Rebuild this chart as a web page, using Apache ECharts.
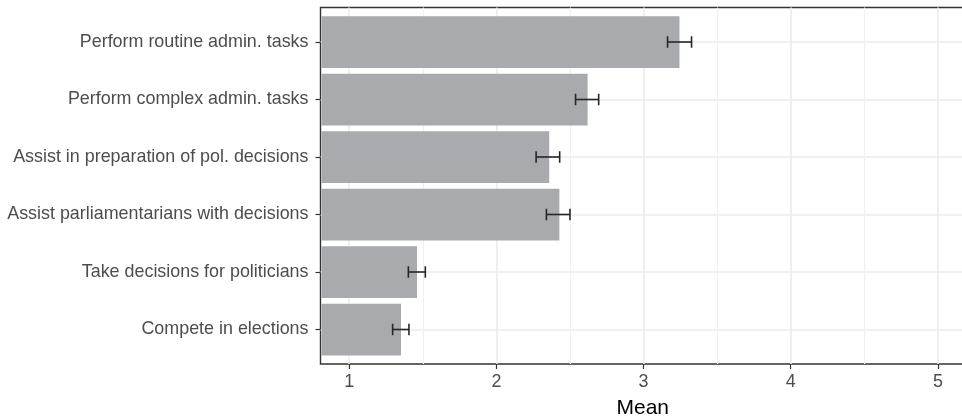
<!DOCTYPE html>
<html>
<head>
<meta charset="utf-8">
<script src="https://cdn.jsdelivr.net/npm/echarts@6/dist/echarts.min.js"></script>
<style>
html,body{margin:0;padding:0;background:#fff;}
#chart{width:962px;height:416px;}
</style>
</head>
<body>
<div id="chart"></div>
<script>
const categories = [
  "Perform routine admin. tasks",
  "Perform complex admin. tasks",
  "Assist in preparation of pol. decisions",
  "Assist parliamentarians with decisions",
  "Take decisions for politicians",
  "Compete in elections"
];
const means = [3.244, 2.62, 2.359, 2.428, 1.461, 1.352];
const lower = [3.163, 2.538, 2.27, 2.34, 1.402, 1.295];
const upper = [3.326, 2.695, 2.43, 2.50, 1.517, 1.406];
const xTicks = [1, 2, 3, 4, 5];
const xMinorTicks = [1.5, 2.5, 3.5, 4.5];

const X_MIN = 0.805, X_MAX = 5.184;
const catIdx = categories.map((c, i) => i);

const barData = catIdx.map(i => [means[i], i]);
const errData = catIdx.map(i => [lower[i], upper[i], i]);

const chart = echarts.init(document.getElementById('chart'), null, {renderer: 'canvas'});
const font = 'Liberation Sans, Arial, Helvetica, sans-serif';

chart.setOption({
  animation: false,
  backgroundColor: '#fff',
  grid: {
    left: 320.5, top: 7.5, right: -3, bottom: 52,
    outerBoundsMode: 'none', containLabel: false,
    show: true, borderColor: '#333333', borderWidth: 1.4, backgroundColor: 'transparent'
  },
  xAxis: [{
    type: 'value', min: X_MIN, max: X_MAX,
    name: 'Mean', nameLocation: 'middle', nameGap: 34,
    nameTextStyle: {fontFamily: font, fontSize: 21, color: '#000'},
    axisLine: {show: false, onZero: false},
    axisTick: {show: true, length: 5, customValues: xTicks, lineStyle: {color: '#333', width: 1.2}},
    axisLabel: {customValues: xTicks, fontFamily: font, fontSize: 17.9, color: '#4d4d4d', margin: 9},
    splitLine: {show: true, lineStyle: {color: '#ebebeb', width: 1.6}}
  }, {
    type: 'value', min: X_MIN, max: X_MAX, position: 'top',
    axisLine: {show: false, onZero: false},
    axisTick: {show: false, customValues: xMinorTicks},
    axisLabel: {show: false, customValues: xMinorTicks},
    splitLine: {show: true, lineStyle: {color: '#f0f0f0', width: 1.2}}
  }],
  yAxis: {
    type: 'value', inverse: true, min: -0.6, max: 5.6,
    axisLine: {show: false, onZero: false},
    axisTick: {show: true, length: 5, customValues: catIdx, lineStyle: {color: '#333', width: 1.2}},
    axisLabel: {
      customValues: catIdx, fontFamily: font, fontSize: 17.9, color: '#4d4d4d', margin: 12,
      formatter: v => categories[Math.round(v)]
    },
    splitLine: {show: true, lineStyle: {color: '#ebebeb', width: 1.6}}
  },
  series: [{
    type: 'custom',
    data: barData,
    encode: {x: 0, y: 1},
    renderItem: function (params, api) {
      const v = api.value(0), i = api.value(1);
      const p0 = api.coord([X_MIN, i]);
      const p1 = api.coord([v, i]);
      const h = api.size([0, 0.9])[1];
      return {
        type: 'rect',
        shape: {x: p0[0] + 1, y: p1[1] - h / 2, width: p1[0] - p0[0] - 1, height: h},
        style: {fill: '#a9aaad'}
      };
    }
  }, {
    type: 'custom',
    data: errData,
    encode: {x: [0, 1], y: 2},
    renderItem: function (params, api) {
      const lo = api.value(0), hi = api.value(1), i = api.value(2);
      const a = api.coord([lo, i]);
      const b = api.coord([hi, i]);
      const c = api.size([0, 0.2])[1] / 2;
      const st = {stroke: '#262626', lineWidth: 1.6};
      return {
        type: 'group',
        children: [
          {type: 'line', shape: {x1: a[0], y1: a[1], x2: b[0], y2: b[1]}, style: st},
          {type: 'line', shape: {x1: a[0], y1: a[1] - c, x2: a[0], y2: a[1] + c}, style: st},
          {type: 'line', shape: {x1: b[0], y1: b[1] - c, x2: b[0], y2: b[1] + c}, style: st}
        ]
      };
    }
  }]
});
</script>
</body>
</html>
